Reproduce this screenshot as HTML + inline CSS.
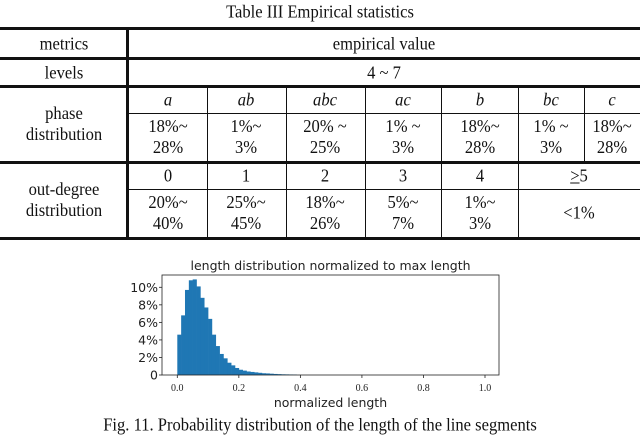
<!DOCTYPE html>
<html><head><meta charset="utf-8"><style>
body{margin:0;width:640px;height:438px;background:#fff;position:relative;overflow:hidden;font-family:"Liberation Serif",serif;color:#111}
.h{position:absolute;background:#111}
.t{position:absolute;font-size:18px;text-align:center;transform:translate(-50%,-50%) scaleX(0.92);white-space:nowrap;line-height:21px}
i{font-style:italic}
</style></head><body>
<div class="t" style="left:320px;top:12px">Table III Empirical statistics</div>
<div>
<div class="h" style="left:0;top:27px;width:640px;height:3px"></div>
<div class="h" style="left:0;top:57px;width:640px;height:3px"></div>
<div class="h" style="left:0;top:85px;width:640px;height:3px"></div>
<div class="h" style="left:0;top:161px;width:640px;height:3px"></div>
<div class="h" style="left:0;top:237px;width:640px;height:3px"></div>
<div class="h" style="left:128px;top:113px;width:512px;height:1px"></div>
<div class="h" style="left:128px;top:189px;width:512px;height:1px"></div>
<div class="h" style="left:126px;top:27px;width:3px;height:213px"></div>
<div class="h" style="left:207px;top:86px;width:1px;height:153px"></div>
<div class="h" style="left:286px;top:86px;width:1px;height:153px"></div>
<div class="h" style="left:365px;top:86px;width:1px;height:153px"></div>
<div class="h" style="left:441px;top:86px;width:1px;height:153px"></div>
<div class="h" style="left:518px;top:86px;width:1px;height:153px"></div>
<div class="h" style="left:584px;top:86px;width:1px;height:76px"></div>

<div class="t" style="left:64px;top:44px">metrics</div>
<div class="t" style="left:384px;top:44px">empirical value</div>
<div class="t" style="left:64px;top:73px">levels</div>
<div class="t" style="left:384px;top:73px">4 ~ 7</div>
<div class="t" style="left:64px;top:124px">phase<br>distribution</div>
<div class="t" style="left:64px;top:200px">out-degree<br>distribution</div>

<div class="t" style="left:168px;top:100px"><i>a</i></div>
<div class="t" style="left:246px;top:100px"><i>ab</i></div>
<div class="t" style="left:325px;top:100px"><i>abc</i></div>
<div class="t" style="left:403px;top:100px"><i>ac</i></div>
<div class="t" style="left:480px;top:100px"><i>b</i></div>
<div class="t" style="left:551px;top:100px"><i>bc</i></div>
<div class="t" style="left:612px;top:100px"><i>c</i></div>

<div class="t" style="left:168px;top:137px">18%~<br>28%</div>
<div class="t" style="left:246px;top:137px">1%~<br>3%</div>
<div class="t" style="left:325px;top:137px">20% ~<br>25%</div>
<div class="t" style="left:403px;top:137px">1% ~<br>3%</div>
<div class="t" style="left:480px;top:137px">18%~<br>28%</div>
<div class="t" style="left:551px;top:137px">1% ~<br>3%</div>
<div class="t" style="left:612px;top:137px">18%~<br>28%</div>

<div class="t" style="left:168px;top:176px">0</div>
<div class="t" style="left:246px;top:176px">1</div>
<div class="t" style="left:325px;top:176px">2</div>
<div class="t" style="left:403px;top:176px">3</div>
<div class="t" style="left:480px;top:176px">4</div>
<div class="t" style="left:579px;top:176px"><u>&gt;</u>5</div>

<div class="t" style="left:168px;top:213px">20%~<br>40%</div>
<div class="t" style="left:246px;top:213px">25%~<br>45%</div>
<div class="t" style="left:325px;top:213px">18%~<br>26%</div>
<div class="t" style="left:403px;top:213px">5%~<br>7%</div>
<div class="t" style="left:480px;top:213px">1%~<br>3%</div>
<div class="t" style="left:579px;top:213px">&lt;1%</div>
</div>

<svg id="chart" width="640" height="438" style="position:absolute;left:0;top:0" font-family="DejaVu Sans, sans-serif"></svg>
<div class="t" style="left:320px;top:425px">Fig. 11. Probability distribution of the length of the line segments</div>
<script>
const binWidth = 0.0125;
const binHeights = [4.6,6.8,9.7,10.8,10.9,10.1,8.8,7.7,6.4,4.6,3.3,2.4,1.9,1.4,1.1,0.8,0.6,0.5,0.4,0.35,0.3,0.25,0.2,0.18,0.15,0.12,0.1,0.08,0.07,0.06,0.05];
const xTicks = [0,0.2,0.4,0.6,0.8,1.0];
const xTickLabels = ["0.0","0.2","0.4","0.6","0.8","1.0"];
const yTicks = [0,2,4,6,8,10];
const yTickLabels = ["0","2%","4%","6%","8%","10%"];

const svg = document.getElementById('chart');
const NS = 'http://www.w3.org/2000/svg';
const L=162,R=499,T=275,B=375;
const sx = v => 177.3 + v*307.7;
const sy = v => B - v*8.77;
function mk(tag, attrs){const e=document.createElementNS(NS,tag);for(const k in attrs)e.setAttribute(k,attrs[k]);svg.appendChild(e);return e;}
binHeights.forEach((h,i)=>{
  const r=mk('rect',{x:sx(i*binWidth),y:sy(h),width:sx((i+1)*binWidth)-sx(i*binWidth)+0.3,height:B-sy(h),fill:'#1f77b4'});
  
  
});
const fr=mk('rect',{x:L,y:T,width:R-L,height:B-T,fill:'none',stroke:'#222','stroke-width':0.8});


xTicks.forEach((v,i)=>{
  mk('line',{x1:sx(v),x2:sx(v),y1:B,y2:B+3,stroke:'#222','stroke-width':0.8});
  const t=mk('text',{x:sx(v),y:B+16,'text-anchor':'middle','font-size':10,'font-family':'Liberation Serif, serif',fill:'#222'});
  t.textContent=xTickLabels[i];
  
  
});
yTicks.forEach((v,i)=>{
  mk('line',{x1:L-3,x2:L,y1:sy(v),y2:sy(v),stroke:'#222','stroke-width':0.8});
  const t=mk('text',{x:L-4,y:sy(v)+4.5,'text-anchor':'end','font-size':12.5,fill:'#222'});
  t.textContent=yTickLabels[i];
  
  
});
const ti=mk('text',{x:(L+R)/2,y:270,'text-anchor':'middle','font-size':12.5,fill:'#222'});
ti.textContent='length distribution normalized to max length';


const xl=mk('text',{x:(L+R)/2,y:407,'text-anchor':'middle','font-size':12.5,fill:'#222'});
xl.textContent='normalized length';


</script>
</body></html>
